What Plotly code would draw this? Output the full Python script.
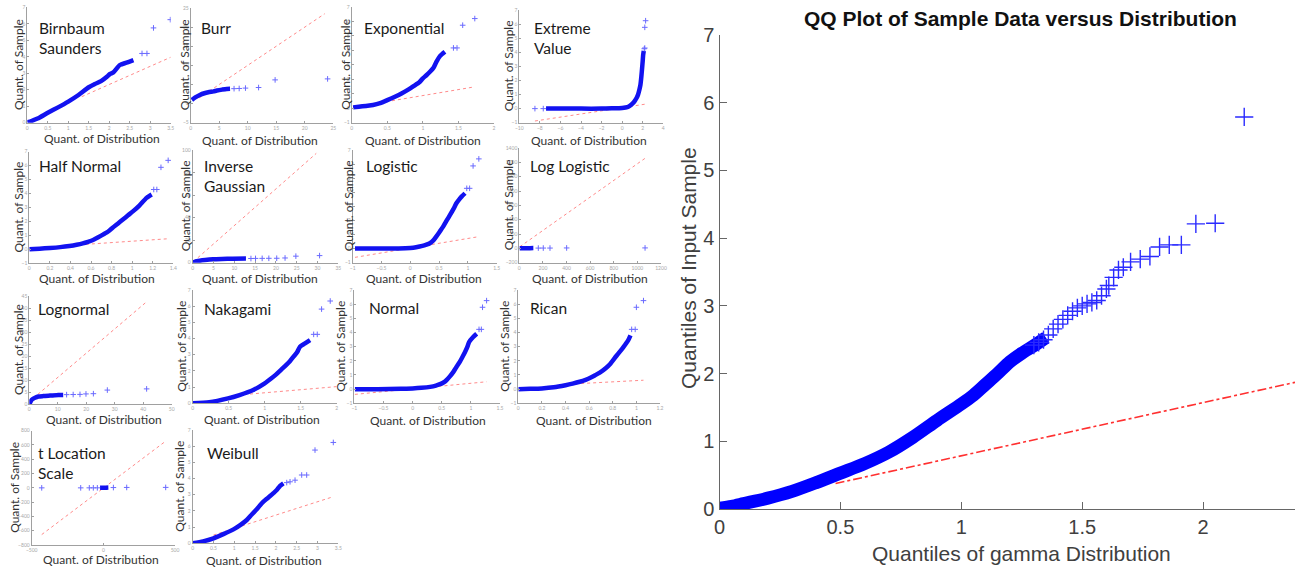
import plotly.graph_objects as go

W, H = 1296, 570

# ---------------- data ----------------
# Birnbaum Saunders
bs_x = [0, 0.1, 0.25, 0.5, 0.75, 1.0, 1.25, 1.5, 1.65, 1.8, 1.95, 2.02, 2.1, 2.26, 2.42, 2.59]
bs_y = [0.02, 0.1, 0.25, 0.6, 0.93, 1.28, 1.68, 2.15, 2.35, 2.52, 2.8, 2.96, 3.05, 3.5, 3.64, 3.8]
bs_tx = [2.8, 2.92, 3.08, 3.49]
bs_ty = [4.2, 4.2, 5.75, 6.25]
bs_rx = [1.33, 3.5]
bs_ry = [1.58, 3.97]
# Burr
br_x = [0.2, 0.8, 1.6, 2.4, 3.1, 4.0, 4.6, 5.5, 6.3, 6.9]
br_y = [0.95, 1.6, 2.26, 2.7, 2.96, 3.2, 3.4, 3.65, 3.84, 3.88]
br_tx = [7.6, 8.5, 9.6, 11.9, 14.8, 24.0]
br_ty = [3.9, 3.95, 4.05, 4.2, 6.2, 6.46]
br_rx = [1.5, 23.5]
br_ry = [1.5, 23.5]
# Exponential
ex_x = [0.02, 0.1, 0.2, 0.3, 0.4, 0.5, 0.6, 0.7, 0.8, 0.87, 0.95, 1.0, 1.05, 1.1, 1.15, 1.19, 1.24, 1.31]
ex_y = [0.06, 0.1, 0.16, 0.22, 0.35, 0.56, 0.78, 1.02, 1.3, 1.53, 1.8, 2.06, 2.28, 2.52, 2.8, 3.2, 3.6, 3.9]
ex_tx = [1.43, 1.48, 1.56, 1.73]
ex_ty = [4.17, 4.17, 5.74, 6.2]
ex_rx = [0.4, 1.73]
ex_ry = [0.38, 1.48]
# Extreme Value
ev_x = [-7.4, -6, -4, -2, -1, 0, 0.5, 0.74, 1.0, 1.23, 1.4, 1.55, 1.68, 1.78, 1.87, 1.94, 2.0, 2.04, 2.1]
ev_y = [0, 0, 0, 0, 0.02, 0.05, 0.1, 0.2, 0.35, 0.55, 0.75, 1.0, 1.35, 1.7, 2.3, 2.88, 3.4, 3.8, 4.1]
ev_tx = [-8.48, -7.67, 2.15, 2.2, 2.2, 2.28]
ev_ty = [0, 0, 4.25, 4.3, 5.77, 6.24]
ev_rx = [-8.48, 2.28]
ev_ry = [-0.88, 0.32]
# Half Normal
hn_x = [0, 0.1, 0.2, 0.3, 0.39, 0.46, 0.52, 0.57, 0.62, 0.67, 0.72, 0.77, 0.81, 0.86, 0.91, 0.96, 1.01, 1.07, 1.14, 1.19]
hn_y = [0, 0.05, 0.1, 0.16, 0.24, 0.33, 0.43, 0.54, 0.67, 0.86, 1.07, 1.3, 1.55, 1.84, 2.14, 2.44, 2.74, 3.14, 3.69, 3.93]
hn_tx = [1.21, 1.24, 1.28, 1.35]
hn_ty = [4.29, 4.29, 5.88, 6.38]
hn_rx = [0.55, 1.35]
hn_ry = [0.36, 0.76]
# Inverse Gaussian
ig_x = [0, 0.5, 1.0, 1.7, 3, 4.9, 7, 9.6, 12.8]
ig_y = [0, 0.8, 1.3, 1.8, 2.4, 3.0, 3.3, 3.6, 3.65]
ig_tx = [14, 15.1, 16.7, 18.3, 20.2, 22.2, 24.8, 30.5]
ig_ty = [3.7, 3.8, 3.85, 3.9, 3.95, 4.2, 5.8, 6.3]
ig_rx = [0.16, 29.7]
ig_ry = [0.9, 97]
# Logistic
lg_x = [-0.96, -0.7, -0.4, -0.2, 0, 0.1, 0.21, 0.28, 0.34, 0.4, 0.45, 0.51, 0.57, 0.63, 0.69, 0.75, 0.8, 0.85, 0.89, 0.95]
lg_y = [0, 0, 0, 0.01, 0.05, 0.1, 0.19, 0.28, 0.38, 0.58, 0.85, 1.2, 1.56, 1.98, 2.39, 2.82, 3.22, 3.5, 3.69, 3.93]
lg_tx = [0.98, 1.03, 1.09, 1.19]
lg_ty = [4.28, 4.28, 5.87, 6.37]
lg_rx = [-0.96, 1.19]
lg_ry = [-0.62, 0.85]
# Log Logistic
ll_x = [2, 30, 60, 90, 119]
ll_y = [0.1, 1.0, 2.0, 3.0, 3.6]
ll_tx = [161, 203, 260, 401, 1065]
ll_ty = [3.9, 4.2, 4.2, 5.8, 6.3]
ll_rx = [5, 1065]
ll_ry = [23, 1256]
# Lognormal
ln_x = [0, 0.4, 0.8, 1.4, 2, 3.2, 4.9, 7.3, 10.2, 11.9]
ln_y = [0, 0.9, 1.7, 2.2, 2.6, 3.1, 3.3, 3.5, 3.75, 3.8]
ln_tx = [13.1, 15.4, 17.8, 19.9, 22.5, 27.4, 41.2]
ln_ty = [3.9, 3.95, 4.0, 4.2, 4.3, 5.8, 6.3]
ln_rx = [1.4, 41.2]
ln_ry = [2.4, 42.6]
# Nakagami
nk_x = [0, 0.23, 0.49, 0.65, 0.84, 1.0, 1.08, 1.16, 1.23, 1.3, 1.35, 1.4, 1.45, 1.49, 1.56, 1.63]
nk_y = [0, 0.06, 0.3, 0.51, 0.82, 1.23, 1.5, 1.79, 2.08, 2.37, 2.6, 2.88, 3.15, 3.5, 3.7, 3.91]
nk_tx = [1.68, 1.73, 1.79, 1.91]
nk_ty = [4.26, 4.26, 5.82, 6.32]
nk_rx = [0.63, 2.0]
nk_ry = [0.51, 1.03]
# Normal
nm_x = [-0.99, -0.6, -0.2, 0, 0.15, 0.3, 0.4, 0.47, 0.53, 0.58, 0.64, 0.7, 0.75, 0.81, 0.86, 0.9, 0.94, 0.97, 1.04, 1.1]
nm_y = [0, 0, 0.02, 0.05, 0.09, 0.16, 0.25, 0.35, 0.47, 0.63, 0.9, 1.22, 1.55, 1.92, 2.3, 2.62, 2.98, 3.33, 3.68, 3.91]
nm_tx = [1.14, 1.18, 1.2, 1.27]
nm_ty = [4.22, 4.22, 5.78, 6.25]
nm_rx = [-0.99, 1.27]
nm_ry = [-0.37, 0.52]
# Rican
rc_x = [0, 0.1, 0.2, 0.3, 0.4, 0.46, 0.52, 0.57, 0.61, 0.65, 0.69, 0.74, 0.78, 0.83, 0.86, 0.89, 0.93, 0.95]
rc_y = [0, 0.02, 0.05, 0.13, 0.28, 0.39, 0.52, 0.66, 0.8, 0.98, 1.17, 1.48, 1.8, 2.34, 2.65, 2.97, 3.44, 3.8]
rc_tx = [0.96, 0.99, 1.0, 1.06]
rc_ty = [4.22, 4.22, 5.78, 6.25]
rc_rx = [0.38, 1.06]
rc_ry = [0.33, 0.63]
# t Location Scale
tl_x = [-23, -10, 0, 10, 20, 35]
tl_y = [0.3, 0.6, 1.0, 1.8, 3.0, 4.0]
tl_tx = [-430, -158, -98, -70, -42, 70, 163, 435]
tl_ty = [0, 0.05, 0.1, 0.15, 0.2, 4.2, 5.8, 6.3]
tl_rx = [-430, 435]
tl_ry = [-654, 654]
# Weibull
wb_x = [0, 0.25, 0.5, 0.75, 0.98, 1.15, 1.3, 1.42, 1.54, 1.62, 1.7, 1.78, 1.86, 1.94, 2.02, 2.1, 2.18]
wb_y = [0, 0.12, 0.31, 0.58, 0.86, 1.14, 1.44, 1.78, 2.1, 2.35, 2.57, 2.75, 2.92, 3.1, 3.29, 3.55, 3.7]
wb_tx = [2.26, 2.34, 2.46, 2.62, 2.74, 2.94, 3.38]
wb_ty = [3.75, 3.8, 3.9, 4.22, 4.22, 5.76, 6.23]
wb_rx = [0.5, 3.38]
wb_ry = [0.51, 2.88]

# Big gamma QQ plot
g_band_x = [0, 0.05, 0.1, 0.2, 0.3, 0.4, 0.5, 0.6, 0.7, 0.8, 0.9, 1.0, 1.05, 1.1, 1.15, 1.2, 1.25, 1.3, 1.35]
g_band_y = [0.01, 0.04, 0.08, 0.16, 0.26, 0.39, 0.53, 0.67, 0.84, 1.06, 1.31, 1.55, 1.68, 1.84, 2.0, 2.17, 2.3, 2.41, 2.53]
g_pts_x = [1.3, 1.32, 1.34, 1.36, 1.38, 1.4, 1.42, 1.44, 1.46, 1.48, 1.5, 1.52, 1.54, 1.56, 1.58, 1.6,
           1.61, 1.63, 1.65, 1.67, 1.70, 1.74, 1.78, 1.82, 1.86, 1.91, 1.97, 2.05, 2.17]
g_pts_y = [2.42, 2.46, 2.5, 2.57, 2.66, 2.73, 2.8, 2.86, 2.92, 2.97, 3.0, 3.03, 3.05, 3.08, 3.15, 3.25,
           3.3, 3.42, 3.53, 3.57, 3.65, 3.69, 3.73, 3.87, 3.9, 3.9, 4.21, 4.22, 5.79]
g_ref_x = [0.48, 2.38]
g_ref_y = [0.377, 1.87]

# tick values
t07 = list(range(0, 8))
tm17 = list(range(-1, 8))

panels = [
    # key, title, band, tail, ref, xrange, yrange, xticks, yticks
    ("bs", "Birnbaum<br>Saunders", bs_x, bs_y, bs_tx, bs_ty, bs_rx, bs_ry, [0, 3.5], [0, 7], [0, .5, 1, 1.5, 2, 2.5, 3, 3.5], t07),
    ("br", "Burr", br_x, br_y, br_tx, br_ty, br_rx, br_ry, [0, 25], [-5, 25], [0, 5, 10, 15, 20, 25], [-5, 0, 5, 10, 15, 20, 25]),
    ("ex", "Exponential", ex_x, ex_y, ex_tx, ex_ty, ex_rx, ex_ry, [0, 2], [-1, 7], [0, .5, 1, 1.5, 2], tm17),
    ("ev", "Extreme<br>Value", ev_x, ev_y, ev_tx, ev_ty, ev_rx, ev_ry, [-10, 4], [-1, 7], [-10, -8, -6, -4, -2, 0, 2, 4], tm17),
    ("hn", "Half Normal", hn_x, hn_y, hn_tx, hn_ty, hn_rx, hn_ry, [0, 1.4], [-1, 7], [0, .2, .4, .6, .8, 1, 1.2, 1.4], tm17),
    ("ig", "Inverse<br>Gaussian", ig_x, ig_y, ig_tx, ig_ty, ig_rx, ig_ry, [0, 35], [0, 100], [0, 5, 10, 15, 20, 25, 30, 35], [0, 20, 40, 60, 80, 100]),
    ("lg", "Logistic", lg_x, lg_y, lg_tx, lg_ty, lg_rx, lg_ry, [-1, 1.5], [-1, 7], [-1, -.5, 0, .5, 1, 1.5], tm17),
    ("ll", "Log Logistic", ll_x, ll_y, ll_tx, ll_ty, ll_rx, ll_ry, [0, 1200], [-200, 1400], [0, 200, 400, 600, 800, 1000, 1200], list(range(-200, 1401, 200))),
    ("ln", "Lognormal", ln_x, ln_y, ln_tx, ln_ty, ln_rx, ln_ry, [0, 50], [0, 45], [0, 10, 20, 30, 40, 50], list(range(0, 46, 5))),
    ("nk", "Nakagami", nk_x, nk_y, nk_tx, nk_ty, nk_rx, nk_ry, [0, 2], [0, 7], [0, .5, 1, 1.5, 2], t07),
    ("nm", "Normal", nm_x, nm_y, nm_tx, nm_ty, nm_rx, nm_ry, [-1, 1.5], [-1, 7], [-1, -.5, 0, .5, 1, 1.5], tm17),
    ("rc", "Rican", rc_x, rc_y, rc_tx, rc_ty, rc_rx, rc_ry, [0, 1.2], [-1, 7], [0, .2, .4, .6, .8, 1, 1.2], tm17),
    ("tl", "t Location<br>Scale", tl_x, tl_y, tl_tx, tl_ty, tl_rx, tl_ry, [-500, 500], [-800, 800], [-500, 0, 500], list(range(-800, 801, 200))),
    ("wb", "Weibull", wb_x, wb_y, wb_tx, wb_ty, wb_rx, wb_ry, [0, 3.5], [0, 7], [0, .5, 1, 1.5, 2, 2.5, 3, 3.5], t07),
]

# ---------------- geometry (pixels) ----------------
geom = {
    # x0, x1, ytop, ybot, title_x, title_y, sample_x, dist_x, dist_y
    "bs": (27.3, 170.7, 7.3, 122.7, 37, 17, 18, 102, 138),
    "br": (190.7, 333.3, 8, 122.7, 199, 17, 184, 260, 140),
    "ex": (351.7, 494, 7, 122.7, 362, 17, 346, 423, 140),
    "ev": (519.3, 663.3, 10, 122.7, 532, 17, 508, 589, 140),
    "hn": (29.3, 173.3, 151.7, 263.3, 37, 155, 18, 97, 278),
    "ig": (192.7, 338.3, 150, 262.7, 202, 155, 185, 260, 278),
    "lg": (352.7, 496.7, 150, 262.7, 364, 155, 348, 424, 278),
    "ll": (519.3, 661, 148, 262.7, 528, 155, 508, 590, 278),
    "ln": (29.3, 171.7, 296, 404, 36, 298, 18, 104, 419),
    "nk": (192.7, 336.7, 290, 403.3, 202, 298, 182, 262, 419),
    "nm": (354.3, 500, 290, 403.3, 367, 297, 341, 428, 420),
    "rc": (518.3, 660, 290, 403.3, 528, 297, 505, 594, 420),
    "tl": (31.7, 175, 430.7, 545, 36, 442, 15, 101, 559),
    "wb": (192.7, 338.3, 430, 543.3, 205, 442, 180, 264, 560),
}

def px(x):
    return x / W

def py(y):
    return 1 - y / H

fig = go.Figure()
layout = dict(width=W, height=H, template="none",
              margin=dict(l=0, r=0, t=0, b=0, pad=0, autoexpand=False),
              paper_bgcolor="white", plot_bgcolor="white", showlegend=False)
annotations = []

SMALL_FONT = "Lato, Noto Sans, sans-serif"
BLUE_BAND = "#1212f0"
BLUE_PT = "#6a6aff"
PINK = "#ff8a8a"

for i, (key, title, bx, by, tx, ty, rx, ry, xr, yr, xt, yt) in enumerate(panels, start=1):
    x0, x1, yt0, yb0, tix, tiy, sx, dx, dy = geom[key]
    xa = "x" if i == 1 else f"x{i}"
    ya = "y" if i == 1 else f"y{i}"
    fig.add_trace(go.Scatter(x=rx, y=ry, mode="lines", xaxis=xa, yaxis=ya,
                             line=dict(color=PINK, width=1, dash="dot"), hoverinfo="skip"))
    fig.add_trace(go.Scatter(x=bx, y=by, mode="lines", xaxis=xa, yaxis=ya,
                             line=dict(color=BLUE_BAND, width=4.5, shape="spline", smoothing=0.6),
                             hoverinfo="skip"))
    fig.add_trace(go.Scatter(x=tx, y=ty, mode="markers", xaxis=xa, yaxis=ya,
                             marker=dict(symbol="cross-thin", size=4, line=dict(color=BLUE_PT, width=1)),
                             hoverinfo="skip"))
    axcommon = dict(showgrid=False, zeroline=False, showline=True, linecolor="#a0a0a0", linewidth=1,
                    ticks="inside", ticklen=2, tickcolor="#a0a0a0", automargin=False,
                    tickfont=dict(size=5, color="#a8a8a8", family=SMALL_FONT))
    layout["xaxis" if i == 1 else f"xaxis{i}"] = dict(
        domain=[px(x0), px(x1)], range=xr, anchor=ya, tickvals=xt, **axcommon)
    layout["yaxis" if i == 1 else f"yaxis{i}"] = dict(
        domain=[py(yb0), py(yt0)], range=yr, anchor=xa, tickvals=yt, **axcommon)
    annotations.append(dict(text=title, x=px(tix), y=py(tiy), xref="paper", yref="paper",
                            xanchor="left", yanchor="top", align="left", showarrow=False,
                            font=dict(size=15.5, color="#1a1a1a", family=SMALL_FONT)))
    annotations.append(dict(text="Quant. of Sample", x=px(sx), y=py((yt0 + yb0) / 2),
                            xref="paper", yref="paper", textangle=-90, showarrow=False,
                            xanchor="center", yanchor="middle",
                            font=dict(size=12, color="#333333", family=SMALL_FONT)))
    annotations.append(dict(text="Quant. of Distribution", x=px(dx), y=py(dy),
                            xref="paper", yref="paper", showarrow=False,
                            xanchor="center", yanchor="middle",
                            font=dict(size=12, color="#333333", family=SMALL_FONT)))

# ---------------- big plot ----------------
n = len(panels) + 1
BX0, BX1, BYT, BYB = 719.5, 1295, 35, 509
xa, ya = f"x{n}", f"y{n}"
fig.add_trace(go.Scatter(x=g_band_x, y=g_band_y, mode="lines", xaxis=xa, yaxis=ya,
                         line=dict(color="#0000ff", width=13, shape="spline", smoothing=0.8),
                         hoverinfo="skip"))
fig.add_trace(go.Scatter(x=g_pts_x, y=g_pts_y, mode="markers", xaxis=xa, yaxis=ya,
                         marker=dict(symbol="cross-thin", size=13, line=dict(color="#2a2aff", width=1.4)),
                         hoverinfo="skip"))
fig.add_trace(go.Scatter(x=g_ref_x, y=g_ref_y, mode="lines", xaxis=xa, yaxis=ya,
                         line=dict(color="#ff3030", width=1.6, dash="dashdot"), hoverinfo="skip"))
BIGFONT = "Liberation Sans, Arial, sans-serif"
bigax = dict(showgrid=False, zeroline=False, showline=True, linecolor="#666666", linewidth=1.2,
             ticks="inside", ticklen=7, tickcolor="#666666", automargin=False,
             tickfont=dict(size=20, color="#404040", family=BIGFONT))
layout[f"xaxis{n}"] = dict(domain=[px(BX0), px(BX1)], range=[0, 2.38], anchor=ya,
                           tickvals=[0, 0.5, 1, 1.5, 2], ticktext=["0", "0.5", "1", "1.5", "2"], **bigax)
layout[f"yaxis{n}"] = dict(domain=[py(BYB), py(BYT)], range=[0, 7], anchor=xa,
                           tickvals=list(range(0, 8)), **bigax)
annotations.append(dict(text="<b>QQ Plot of Sample Data versus Distribution</b>", x=px(1020), y=py(19),
                        xref="paper", yref="paper", showarrow=False, xanchor="center", yanchor="middle",
                        font=dict(size=21, color="#111111", family=BIGFONT)))
annotations.append(dict(text="Quantiles of gamma Distribution", x=px(1021), y=py(553),
                        xref="paper", yref="paper", showarrow=False, xanchor="center", yanchor="middle",
                        font=dict(size=21, color="#404040", family=BIGFONT)))
annotations.append(dict(text="Quantiles of Input Sample", x=px(688), y=py(268),
                        xref="paper", yref="paper", showarrow=False, textangle=-90,
                        xanchor="center", yanchor="middle",
                        font=dict(size=21, color="#404040", family=BIGFONT)))

layout["annotations"] = annotations
fig.update_layout(**layout)
fig.write_html("out.html", config={"displayModeBar": False},
               post_script="document.body.style.margin='0px';document.body.style.overflow='hidden';")
